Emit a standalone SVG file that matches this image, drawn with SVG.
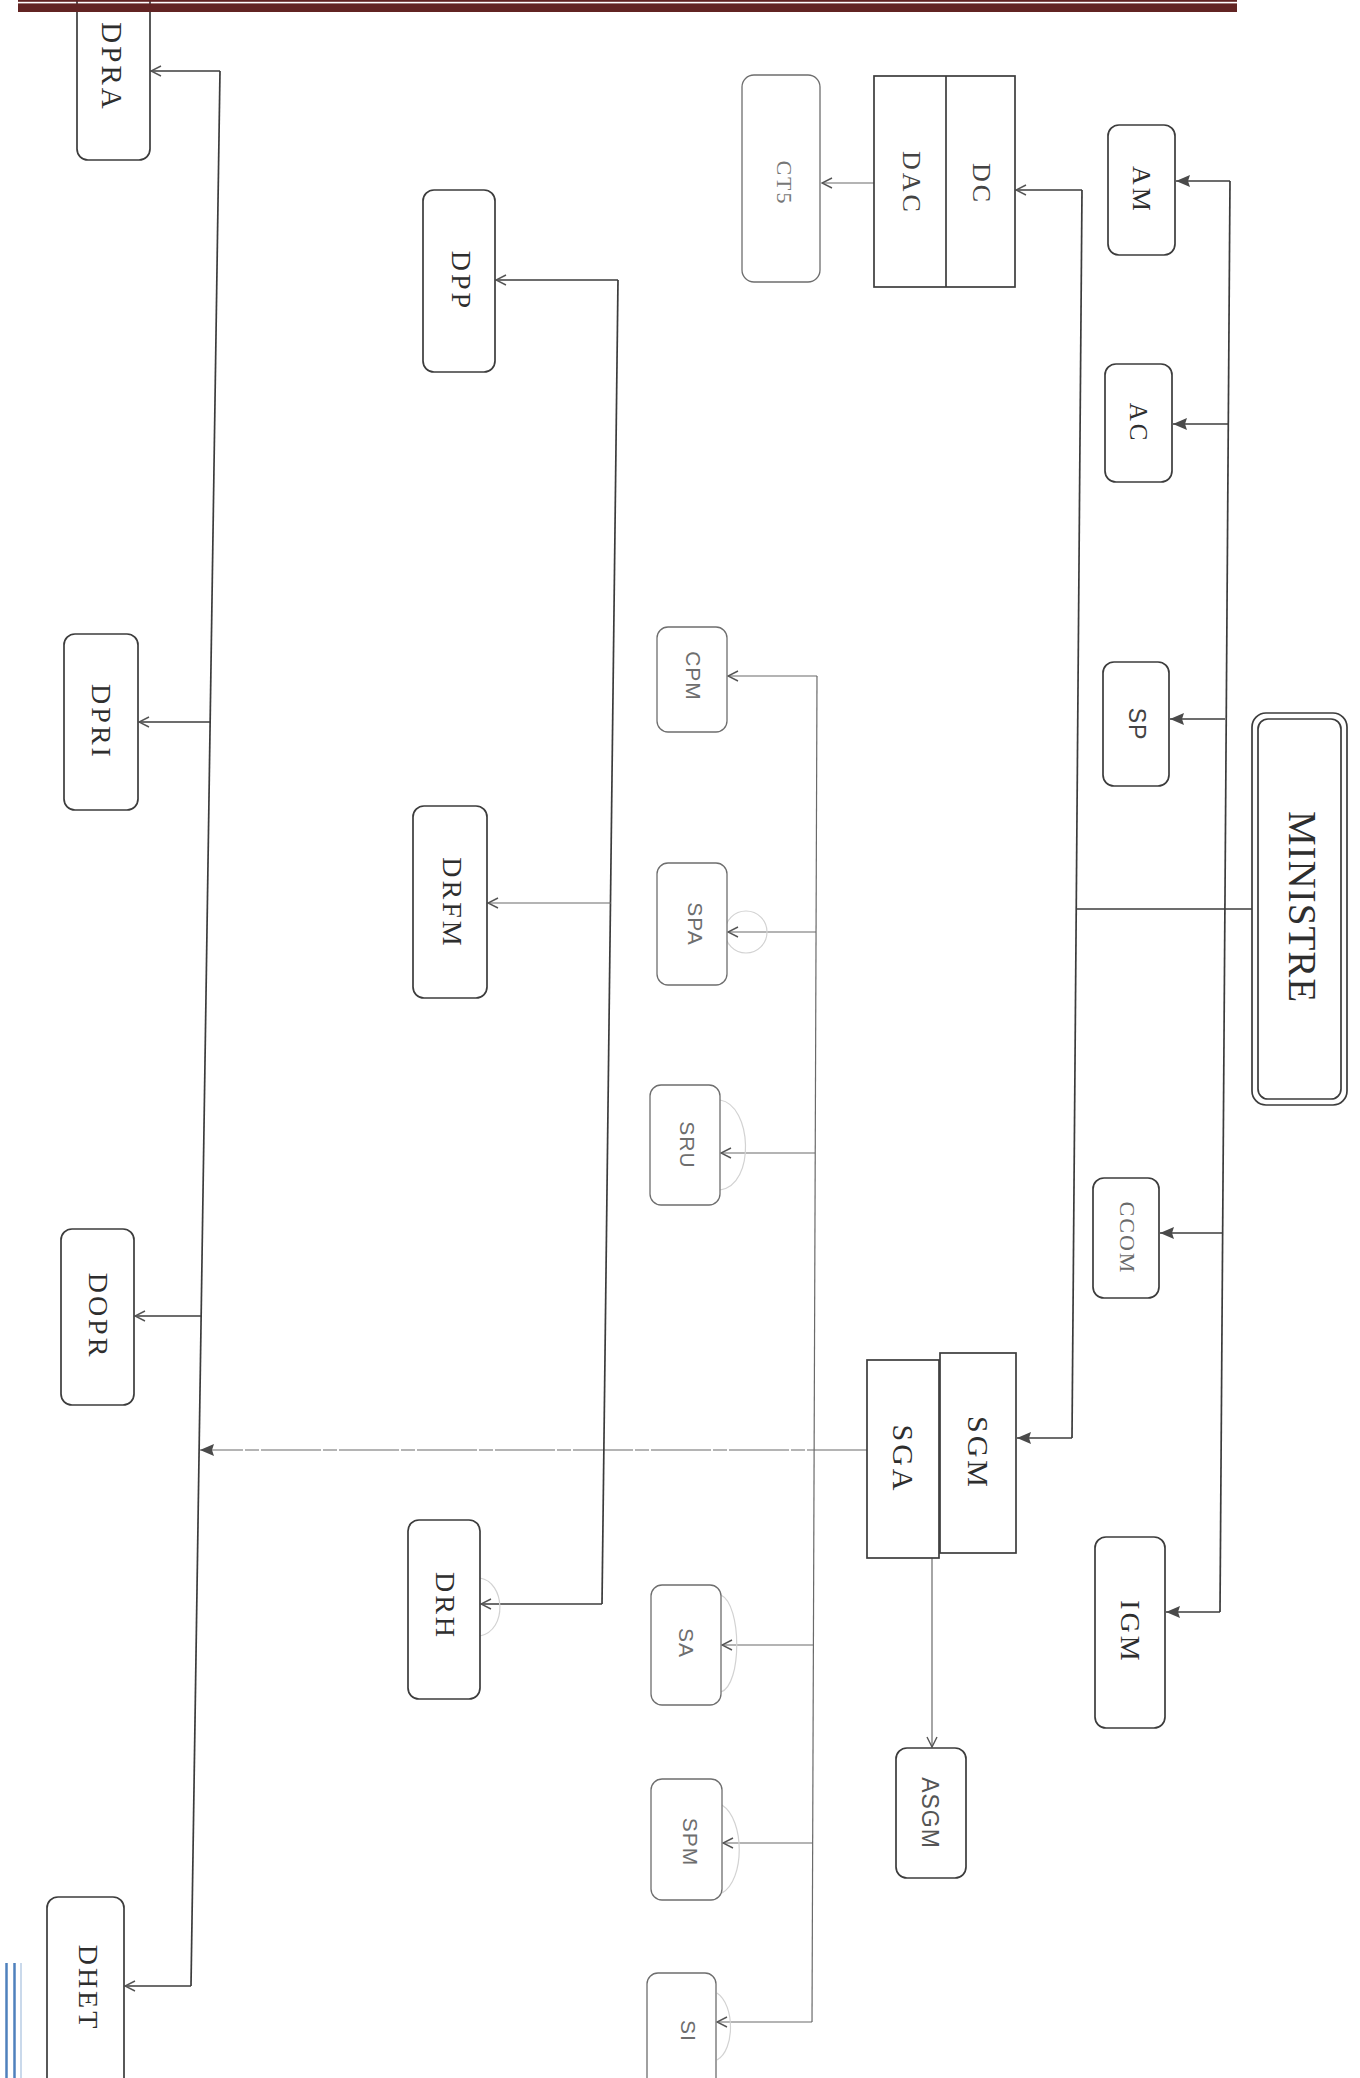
<svg xmlns="http://www.w3.org/2000/svg" width="1360" height="2078" viewBox="0 0 1360 2078">
<defs>
<style>
.box{fill:#fff;stroke:#3c3c3c;stroke-width:1.7}
.lbox{fill:#fff;stroke:#6e6e6e;stroke-width:1.3}
.ln{fill:none;stroke:#3c3c3c;stroke-width:1.7}
.lnl{fill:none;stroke:#6a6a6a;stroke-width:1.2}
.pen{fill:none;stroke:#d2d2d2;stroke-width:1.2}
.t{font-family:"Liberation Serif","Times New Roman",serif;fill:#2e2e2e;text-anchor:middle;dominant-baseline:central;letter-spacing:3px}
.s{font-family:"Liberation Sans",Arial,sans-serif;fill:#6e6e6e;text-anchor:middle;dominant-baseline:central;letter-spacing:1px}
</style>
<marker id="af" viewBox="0 0 14 12" refX="14" refY="6" markerWidth="14" markerHeight="12" markerUnits="userSpaceOnUse" orient="auto"><path d="M0,0 L14,6 L0,12 L2,6 z" fill="#4a4a4a"/></marker>
<marker id="ao" viewBox="0 0 12 12" refX="11" refY="6" markerWidth="12" markerHeight="12" markerUnits="userSpaceOnUse" orient="auto"><path d="M1,1 L11,6 L1,11" fill="none" stroke="#555" stroke-width="1.4"/></marker>
</defs>
<rect width="1360" height="2078" fill="#fff"/>

<g id="connectors">
  <line class="ln" x1="1252" y1="909" x2="1076" y2="909"/>
  <line class="ln" x1="1230" y1="181" x2="1220" y2="1612"/>
  <line class="ln" x1="1230" y1="181" x2="1176" y2="181" marker-end="url(#af)"/>
  <line class="ln" x1="1228" y1="424" x2="1173" y2="424" marker-end="url(#af)"/>
  <line class="ln" x1="1225" y1="719" x2="1170" y2="719" marker-end="url(#af)"/>
  <line class="ln" x1="1222" y1="1233" x2="1160" y2="1233" marker-end="url(#af)"/>
  <line class="ln" x1="1220" y1="1612" x2="1166" y2="1612" marker-end="url(#af)"/>
  <line class="ln" x1="1082" y1="190" x2="1072" y2="1438"/>
  <line class="ln" x1="1082" y1="190" x2="1016" y2="190" marker-end="url(#ao)"/>
  <line class="ln" x1="1072" y1="1438" x2="1017" y2="1438" marker-end="url(#af)"/>
  <line class="lnl" x1="874" y1="183" x2="822" y2="183" marker-end="url(#ao)"/>
  <line class="lnl" x1="867" y1="1450" x2="200" y2="1450" stroke-dasharray="60 2 14 2" stroke="#5a5a5a" stroke-width="1.5" marker-end="url(#af)"/>
  <line class="lnl" x1="932" y1="1558" x2="932" y2="1747" marker-end="url(#ao)"/>
  <line class="ln" x1="220" y1="71" x2="191" y2="1986"/>
  <line class="ln" x1="220" y1="71" x2="151" y2="71" marker-end="url(#ao)"/>
  <line class="ln" x1="210" y1="722" x2="139" y2="722" marker-end="url(#ao)"/>
  <line class="ln" x1="201" y1="1316" x2="135" y2="1316" marker-end="url(#ao)"/>
  <line class="ln" x1="191" y1="1986" x2="125" y2="1986" marker-end="url(#ao)"/>
  <line class="ln" x1="618" y1="280" x2="602" y2="1604"/>
  <line class="ln" x1="618" y1="280" x2="496" y2="280" marker-end="url(#ao)"/>
  <line class="lnl" x1="611" y1="903" x2="488" y2="903" marker-end="url(#ao)"/>
  <line class="ln" x1="602" y1="1604" x2="481" y2="1604" marker-end="url(#ao)"/>
  <line class="lnl" x1="817" y1="676" x2="812" y2="2022"/>
  <line class="lnl" x1="817" y1="676" x2="728" y2="676" marker-end="url(#ao)"/>
  <line class="lnl" x1="816" y1="932" x2="728" y2="932" marker-end="url(#ao)"/>
  <line class="lnl" x1="815" y1="1153" x2="721" y2="1153" marker-end="url(#ao)"/>
  <line class="lnl" x1="814" y1="1645" x2="722" y2="1645" marker-end="url(#ao)"/>
  <line class="lnl" x1="813" y1="1843" x2="723" y2="1843" marker-end="url(#ao)"/>
  <line class="lnl" x1="812" y1="2022" x2="717" y2="2022" marker-end="url(#ao)"/>
</g>

<g id="pencil-marks">
  <circle class="pen" cx="746" cy="932" r="21"/>
  <path class="pen" d="M720,1100 C752,1105 756,1185 720,1190"/>
  <path class="pen" d="M480,1578 C505,1582 508,1630 480,1636"/>
  <path class="pen" d="M721,1595 C742,1605 742,1685 721,1692"/>
  <path class="pen" d="M722,1805 C745,1820 745,1880 722,1893"/>
  <path class="pen" d="M717,1993 C735,2005 735,2050 717,2060"/>
</g>

<g id="n-ministre">
  <rect class="box" x="1252" y="713" width="95" height="392" rx="14" stroke-width="2"/>
  <rect class="box" x="1258" y="719" width="83" height="380" rx="10" stroke-width="1.6"/>
  <text class="t" transform="translate(1302,907) rotate(90)" font-size="39" style="letter-spacing:1px">MINISTRE</text>
</g>
<g id="n-am"><rect class="box" x="1108" y="125" width="67" height="130" rx="11"/><text class="t" transform="translate(1141,190) rotate(90)" font-size="26">AM</text></g>
<g id="n-ac"><rect class="box" x="1105" y="364" width="67" height="118" rx="11"/><text class="t" transform="translate(1138,423) rotate(90)" font-size="25">AC</text></g>
<g id="n-sp"><rect class="box" x="1103" y="662" width="66" height="124" rx="11"/><text class="s" transform="translate(1137,724) rotate(90)" font-size="23" style="fill:#444">SP</text></g>
<g id="n-ccom"><rect class="box" x="1093" y="1178" width="66" height="120" rx="11"/><text class="t" transform="translate(1127,1238) rotate(90)" font-size="22" style="fill:#6a6a6a;letter-spacing:2px">CCOM</text></g>
<g id="n-igm"><rect class="box" x="1095" y="1537" width="70" height="191" rx="11"/><text class="t" transform="translate(1130,1632) rotate(90)" font-size="28">IGM</text></g>

<g id="n-dc-dac">
  <rect class="box" x="874" y="76" width="141" height="211"/>
  <line class="box" x1="946" y1="76" x2="946" y2="287"/>
  <text class="t" transform="translate(981,184) rotate(90)" font-size="26" style="fill:#444">DC</text>
  <text class="t" transform="translate(911,183) rotate(90)" font-size="26" style="fill:#444">DAC</text>
</g>
<g id="n-ct5"><rect class="lbox" x="742" y="75" width="78" height="207" rx="12"/><text class="t" transform="translate(784,183) rotate(90)" font-size="22" style="fill:#777;letter-spacing:2px">CT5</text></g>

<g id="n-sgm"><rect class="box" x="940" y="1353" width="76" height="200"/><text class="t" transform="translate(978,1453) rotate(90)" font-size="30">SGM</text></g>
<g id="n-sga"><rect class="box" x="867" y="1360" width="72" height="198"/><text class="t" transform="translate(903,1459) rotate(90)" font-size="30">SGA</text></g>
<g id="n-asgm"><rect class="box" x="896" y="1748" width="70" height="130" rx="11"/><text class="s" transform="translate(930,1813) rotate(90)" font-size="23" style="fill:#555">ASGM</text></g>

<g id="n-cpm"><rect class="lbox" x="657" y="627" width="70" height="105" rx="11"/><text class="s" transform="translate(693,676) rotate(90)" font-size="21">CPM</text></g>
<g id="n-spa"><rect class="lbox" x="657" y="863" width="70" height="122" rx="11"/><text class="s" transform="translate(695,924) rotate(90)" font-size="21">SPA</text></g>
<g id="n-sru"><rect class="lbox" x="650" y="1085" width="70" height="120" rx="11"/><text class="s" transform="translate(687,1145) rotate(90)" font-size="21">SRU</text></g>
<g id="n-sa"><rect class="lbox" x="651" y="1585" width="70" height="120" rx="11"/><text class="s" transform="translate(686,1643) rotate(90)" font-size="21">SA</text></g>
<g id="n-spm"><rect class="lbox" x="651" y="1779" width="71" height="121" rx="11"/><text class="s" transform="translate(690,1842) rotate(90)" font-size="21">SPM</text></g>
<g id="n-si"><rect class="lbox" x="647" y="1973" width="69" height="140" rx="11"/><text class="s" transform="translate(688,2031) rotate(90)" font-size="21">SI</text></g>

<g id="n-dpp"><rect class="box" x="423" y="190" width="72" height="182" rx="11"/><text class="t" transform="translate(461,281) rotate(90)" font-size="28">DPP</text></g>
<g id="n-drfm"><rect class="box" x="413" y="806" width="74" height="192" rx="11"/><text class="t" transform="translate(452,903) rotate(90)" font-size="28">DRFM</text></g>
<g id="n-drh"><rect class="box" x="408" y="1520" width="72" height="179" rx="11"/><text class="t" transform="translate(445,1606) rotate(90)" font-size="28">DRH</text></g>

<g id="n-dpra"><rect class="box" x="77" y="-40" width="73" height="200" rx="11"/><text class="t" transform="translate(112,67) rotate(90)" font-size="29">DPRA</text></g>
<g id="n-dpri"><rect class="box" x="64" y="634" width="74" height="176" rx="11"/><text class="t" transform="translate(101,722) rotate(90)" font-size="28">DPRI</text></g>
<g id="n-dopr"><rect class="box" x="61" y="1229" width="73" height="176" rx="11"/><text class="t" transform="translate(98,1316) rotate(90)" font-size="28">DOPR</text></g>
<g id="n-dhet"><rect class="box" x="47" y="1897" width="77" height="220" rx="11"/><text class="t" transform="translate(88,1988) rotate(90)" font-size="28">DHET</text></g>

<g id="page-header">
  <rect x="18" y="0" width="1219" height="1.8" fill="#622423"/>
  <rect x="18" y="3.4" width="1219" height="8.6" fill="#622423"/>
</g>
<g id="page-border">
  <line x1="6.5" y1="1963" x2="6.5" y2="2078" stroke="#4f81bd" stroke-width="2.5"/>
  <line x1="14.5" y1="1963" x2="14.5" y2="2078" stroke="#4f81bd" stroke-width="2.5"/>
  <line x1="21" y1="1963" x2="21" y2="2078" stroke="#95b3d7" stroke-width="1"/>
</g>
</svg>
